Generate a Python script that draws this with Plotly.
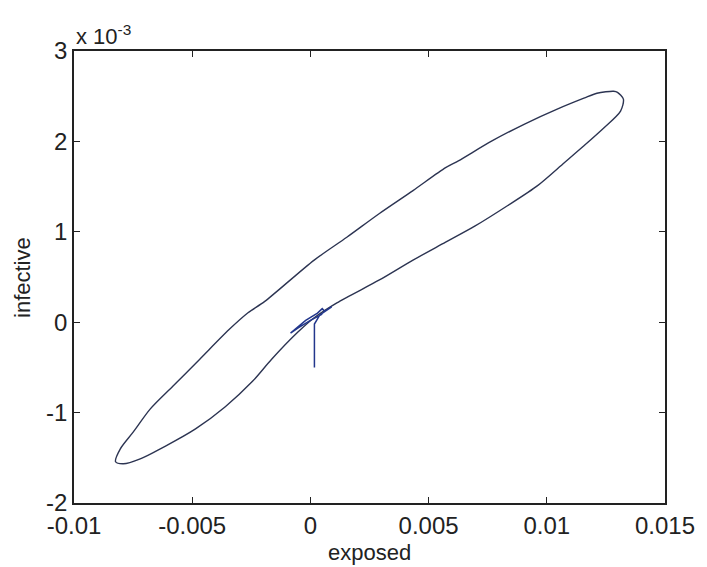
import plotly.graph_objects as go
import numpy as np

# Limit cycle (exposed, infective x 1e-3)
cycle_exposed = [0.00016, 0.00112, 0.00292, 0.00434, 0.00572, 0.00697, 0.00835, 0.00961,
                 0.01074, 0.01157, 0.01241, 0.01312, 0.01324, 0.01299, 0.01283, 0.01212,
                 0.01157, 0.01044, 0.00906, 0.00768, 0.00626, 0.00572, 0.00434, 0.00292,
                 0.00154, 0.00016, -0.00193, -0.00264, -0.00344, -0.00469, -0.00582,
                 -0.00678, -0.00749, -0.00804, -0.00824, -0.00791, -0.00720, -0.00611,
                 -0.00486, -0.00360, -0.00247, -0.00164, -0.00055, 0.00016]
cycle_infective_e3 = [0.049, 0.214, 0.467, 0.687, 0.885, 1.065, 1.291, 1.511,
                      1.764, 1.951, 2.148, 2.335, 2.467, 2.543, 2.555, 2.533,
                      2.478, 2.357, 2.192, 2.005, 1.785, 1.709, 1.456, 1.203,
                      0.940, 0.687, 0.230, 0.104, -0.082, -0.412, -0.709,
                      -0.962, -1.214, -1.401, -1.544, -1.566, -1.511, -1.368,
                      -1.181, -0.935, -0.660, -0.410, -0.115, 0.049]

# Initial transient
trans_exposed = [0.00017, 0.00017, 0.00040, 0.00070, 0.00090, 0.00060, 0.00050,
                 0.00030, -0.00020, -0.00084, -0.00050, 0.00000, 0.00050]
trans_infective_e3 = [-0.50, -0.02, 0.08, 0.14, 0.17, 0.12, 0.15,
                      0.10, 0.02, -0.12, -0.06, 0.02, 0.09]

x_ticks = [-0.01, -0.005, 0, 0.005, 0.01, 0.015]
x_ticktext = ["-0.01", "-0.005", "0", "0.005", "0.01", "0.015"]
y_ticks_e3 = [-2, -1, 0, 1, 2, 3]
y_ticktext = ["-2", "-1", "0", "1", "2", "3"]

scale = 1e-3
fig = go.Figure()
fig.add_trace(go.Scatter(x=cycle_exposed, y=np.array(cycle_infective_e3) * scale,
                         mode="lines", line=dict(color="#2c3452", width=1.4,
                                                 shape="spline", smoothing=0.8),
                         showlegend=False))
fig.add_trace(go.Scatter(x=trans_exposed, y=np.array(trans_infective_e3) * scale,
                         mode="lines", line=dict(color="#23378c", width=1.5),
                         showlegend=False))

font = dict(family="Liberation Sans, Arial, sans-serif", size=24, color="#222222")
axis_common = dict(showline=True, linecolor="#222222", linewidth=1.5, mirror="allticks",
                   ticks="inside", ticklen=6, tickcolor="#222222", tickwidth=1.2,
                   showgrid=False, zeroline=False, tickfont=font)

fig.update_layout(
    width=707, height=567,
    margin=dict(l=74, r=36, t=51, b=64),
    paper_bgcolor="white", plot_bgcolor="white",
    xaxis=dict(range=[-0.01, 0.015], tickvals=x_ticks, ticktext=x_ticktext, **axis_common),
    yaxis=dict(range=[-2 * scale, 3 * scale], tickvals=[v * scale for v in y_ticks_e3],
               ticktext=y_ticktext, **axis_common),
    annotations=[
        dict(text="exposed", x=0.5, y=-0.078, xref="paper", yref="paper",
             xanchor="center", yanchor="top", showarrow=False,
             font=dict(family=font["family"], size=22, color="#222222")),
        dict(text="infective", x=-0.088, y=0.5, xref="paper", yref="paper", textangle=-90,
             xanchor="center", yanchor="middle", showarrow=False,
             font=dict(family=font["family"], size=22, color="#222222")),
        dict(text="x 10<sup>-3</sup>", x=0.0, y=1.0, xref="paper", yref="paper",
             xanchor="left", yanchor="bottom", showarrow=False,
             font=dict(family=font["family"], size=22, color="#222222")),
    ],
)

fig.write_html("out.html")
